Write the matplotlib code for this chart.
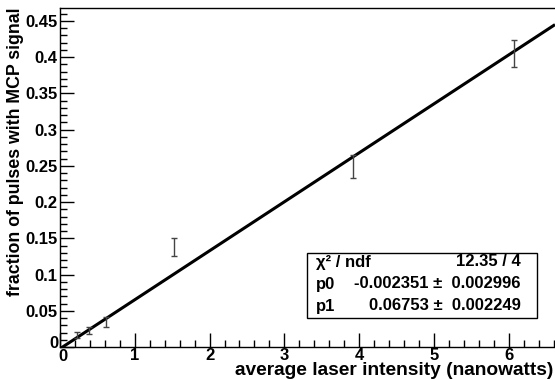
import matplotlib.pyplot as plt
import numpy as np
from matplotlib.ticker import MultipleLocator, FuncFormatter

x = [0.23, 0.39, 0.62, 1.53, 3.92, 6.07]
y = [0.017, 0.023, 0.035, 0.138, 0.249, 0.405]
yerr = [0.004, 0.005, 0.007, 0.012, 0.016, 0.019]

# fit result
p0 = -0.002351
p1 = 0.06753
stat_names = ["χ² / ndf", "p0", "p1"]
stat_vals = ["12.35 / 4", "-0.002351 ±  0.002996", "0.06753 ±  0.002249"]

plt.rcParams['font.family'] = ['Liberation Sans', 'DejaVu Sans']
plt.rcParams['font.weight'] = 'bold'

fig = plt.figure(figsize=(5.55, 3.8), dpi=100)
ax = fig.add_axes([60/555, 1-347/380, 495/555, 339/380])

xmax = 6.62
ymax = 0.4676
ax.set_xlim(0, xmax)
ax.set_ylim(0, ymax)

xf = np.array([0, xmax])
ax.plot(xf, p0 + p1*xf, color='black', lw=2.2, solid_capstyle='butt')
ax.errorbar(x, y, yerr=yerr, fmt='none', ecolor='#444444', elinewidth=1.0, capsize=2.5, capthick=1.0)

def fmt(v, p):
    if abs(v) < 1e-9:
        return ''  # the two zeros are placed by hand below
    return '%g' % round(v, 3)

ax.xaxis.set_major_locator(MultipleLocator(1))
ax.xaxis.set_minor_locator(MultipleLocator(0.2))
ax.yaxis.set_major_locator(MultipleLocator(0.05))
ax.yaxis.set_minor_locator(MultipleLocator(0.01))
ax.yaxis.set_major_formatter(FuncFormatter(fmt))
ax.xaxis.set_major_formatter(FuncFormatter(fmt))
ax.tick_params(which='both', direction='in', top=False, right=False, labelsize=12)
ax.tick_params(which='major', length=10, width=1)
ax.tick_params(which='minor', length=5, width=1)
ax.tick_params(axis='x', pad=1)
ax.tick_params(axis='y', pad=2)
for s in ['top', 'left', 'bottom']:
    ax.spines[s].set_linewidth(1.0)
ax.spines['right'].set_visible(False)

# the "0" labels, nudged apart like ROOT does
ax.annotate('0', xy=(0, 0), xycoords='data', xytext=(-2, 3), textcoords='offset pixels',
            ha='right', va='center', fontsize=12, fontweight='bold', annotation_clip=False)
ax.annotate('0', xy=(0, 0), xycoords='data', xytext=(3, -2), textcoords='offset pixels',
            ha='center', va='top', fontsize=12, fontweight='bold', annotation_clip=False)

# axis titles, ROOT style (right / top aligned)
fig.text(553/555, 1-375/380, "average laser intensity (nanowatts)", ha='right', va='baseline',
         fontsize=13.8, fontweight='bold')
fig.text(16/555, 1-8/380, "fraction of pulses with MCP signal", ha='center', va='top',
         rotation=90, fontsize=12.8, fontweight='bold')

# stats box
bx0, by0, bx1, by1 = 307/555, 1-318/380, 537/555, 1-253/380
fig.patches.append(plt.Rectangle((bx0, by0), bx1-bx0, by1-by0, transform=fig.transFigure,
                                 fill=True, facecolor='white', edgecolor='black', lw=1.0, zorder=5))
rows_y = [262, 284, 306]
for name, val, ry in zip(stat_names, stat_vals, rows_y):
    fig.text(316/555, 1-ry/380, name, ha='left', va='center', fontsize=12, fontweight='bold', zorder=6)
    fig.text(521/555, 1-ry/380, val, ha='right', va='center', fontsize=12, fontweight='bold', zorder=6)

fig.savefig("out.png", dpi=100)
